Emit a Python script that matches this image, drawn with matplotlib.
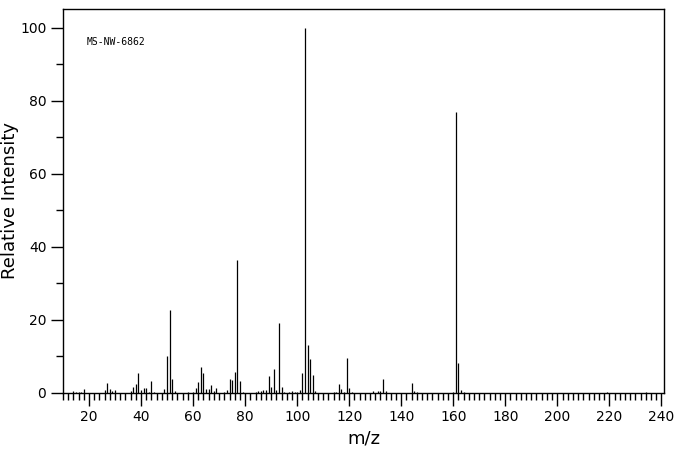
import matplotlib
matplotlib.use("Agg")
import matplotlib.pyplot as plt
from matplotlib.ticker import MultipleLocator

# peaks (m/z, relative intensity)
mz = [14, 15, 16, 17, 18, 26, 27, 28, 29, 30,
      36, 37, 38, 39, 40, 41, 42, 43, 44, 45,
      49, 50, 51, 52, 53, 58, 60, 61, 62, 63,
      64, 65, 66, 67, 68, 69, 72, 73, 74, 75,
      76, 77, 78, 79, 84, 85, 86, 87, 88, 89,
      90, 91, 92, 93, 94, 95, 97, 98, 99, 100,
      101, 102, 103, 104, 105, 106, 107, 114, 115, 116,
      117, 118, 119, 120, 121, 129, 131, 132, 133, 134,
      144, 145, 146, 160, 161, 162, 163, 164, 219, 234]
intensity = [0.6, 0.3, 0.4, 0.4, 1.2, 0.9, 2.8, 1.1, 0.5, 0.8,
             0.5, 1.6, 2.5, 5.6, 0.9, 1.4, 1.4, 0.3, 3.4, 0.4,
             1.1, 10.0, 22.8, 3.7, 0.6, 0.4, 0.4, 1.5, 3.1, 7.1,
             5.6, 1.2, 1.1, 2.2, 0.5, 1.3, 0.3, 0.7, 3.7, 3.5,
             5.7, 36.5, 3.2, 0.3, 0.3, 0.5, 0.6, 0.8, 0.7, 4.7,
             1.6, 6.6, 0.8, 19.3, 1.6, 0.3, 0.3, 0.5, 0.3, 0.3,
             0.8, 5.5, 100.0, 13.2, 9.3, 4.9, 0.5, 0.4, 0.3, 2.5,
             1.1, 0.3, 9.6, 1.4, 0.4, 0.6, 0.5, 0.6, 3.8, 0.6,
             2.8, 0.6, 0.4, 0.4, 77.0, 8.3, 0.9, 0.4, 0.3, 0.3]

xticks = [20, 40, 60, 80, 100, 120, 140, 160, 180, 200, 220, 240]
yticks = [0, 20, 40, 60, 80, 100]
label = "MS-NW-6862"

fig = plt.figure(figsize=(6.76, 4.55), dpi=100)
ax = fig.add_axes([0.0932, 0.1363, 0.889, 0.8439])

ax.vlines(mz, 0, intensity, color="black", linewidth=0.9)

ax.set_xlim(10, 241)
ax.set_ylim(0, 105.2)
ax.set_xticks(xticks)
ax.set_yticks(yticks)
ax.xaxis.set_minor_locator(MultipleLocator(2))
ax.yaxis.set_minor_locator(MultipleLocator(10))
ax.tick_params(which="major", length=9, width=1.0, labelsize=10, pad=3)
ax.tick_params(which="minor", length=5, width=1.0)

for s in ax.spines.values():
    s.set_linewidth(1.0)

ax.set_xlabel("m/z", fontsize=13, labelpad=4)
ax.set_ylabel("Relative Intensity", fontsize=13, labelpad=1)

ax.text(0.04, 0.914, label, transform=ax.transAxes, fontsize=7,
        family="DejaVu Sans Mono", va="center", ha="left")

fig.savefig("out.png", dpi=100)
